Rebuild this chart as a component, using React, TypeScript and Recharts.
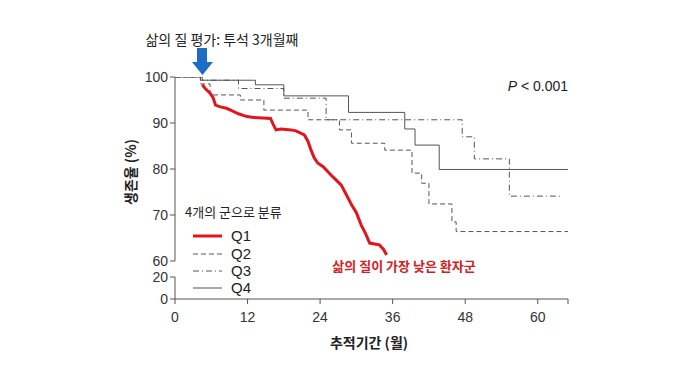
import { LineChart, Line, XAxis, YAxis } from 'recharts';

const FONT = '"Liberation Sans", Arial, "Noto Sans CJK KR", sans-serif';
const KFONT = '"Noto Sans CJK KR", "Liberation Sans", sans-serif';

const xTicks = [0, 12, 24, 36, 48, 60, 65];
const upperTicks = [60, 70, 80, 90, 100];
const lowerTicks = [0, 20];

// Q1: lowest QoL group
const q1Months = [4.5, 5, 5.8, 6.3, 6.7, 7.5, 8.5, 9.2, 10.5, 11.9, 13, 14.5, 15.8, 16.2, 16.7, 17.5, 19.2, 20, 21.4, 22, 22.5, 23, 23.6, 24.5, 25.8, 26.5, 27.5, 28.3, 29.2, 30, 30.8, 31.5, 32.2, 33, 33.8, 34.5, 35];
const q1Survival = [98.3, 97.5, 96.5, 95.5, 93.9, 93.5, 93.2, 92.8, 92, 91.4, 91.2, 91.1, 91.0, 89.8, 88.5, 88.7, 88.5, 88.3, 87.4, 86, 84.1, 82.5, 81.3, 80.5, 78.7, 77.8, 76.5, 74.5, 72.2, 70.5, 67.8, 66, 63.9, 63.7, 63.5, 62.5, 61.3];

const q2Months = [0, 4.2, 5.8, 10.8, 14.7, 22, 27.2, 29.2, 34.7, 39.2, 40.8, 42, 45.8, 46.5, 65];
const q2Survival = [100, 98.5, 96.1, 95, 92.8, 90.7, 88.5, 85.6, 84.1, 79.1, 76.9, 72.4, 68.5, 66.4, 66.4];

const q3Months = [0, 4.5, 10.5, 18, 25, 47.5, 49.5, 55.3, 64];
const q3Survival = [100, 99.3, 97.5, 95.4, 90.7, 87, 82.2, 74.1, 74.1];

const q4Months = [0, 4.2, 13.3, 18, 28.7, 38, 39.7, 43.7, 65];
const q4Survival = [100, 99.3, 98.3, 95.9, 92.3, 88.7, 85.2, 79.9, 79.9];

const toRows = (m: number[], s: number[]) => m.map((month, i) => ({ month, survival: s[i] }));
// lower (broken) panel holds no curves, only the 0–20 scale
const lowerRows = xTicks.map((month) => ({ month, survival: 0 }));

const GREY = '#555';
const RED = '#e3151c';
const tickStyle = { fill: '#333', fontSize: 14, fontFamily: FONT };

export default function App() {
  return (
    <div style={{ position: 'absolute', left: 0, top: 0, width: 680, height: 383, background: '#fff' }}>
      <div style={{ position: 'absolute', left: 0, top: 0 }}>
        <LineChart width={680} height={383} data={lowerRows} margin={{ top: 277, right: 112, left: 0, bottom: 0 }}>
          <XAxis
            type="number"
            dataKey="month"
            domain={[0, 65]}
            ticks={xTicks}
            tickFormatter={(v: number) => (v === 65 ? '' : String(v))}
            height={84}
            tick={tickStyle}
            tickSize={5}
            tickMargin={8}
            stroke={GREY}
            interval={0}
          />
          <YAxis
            type="number"
            domain={[0, 20]}
            ticks={lowerTicks}
            width={175}
            tick={tickStyle}
            tickSize={5}
            stroke={GREY}
            interval={0}
            allowDataOverflow
          />
          <Line dataKey="survival" stroke="none" dot={false} isAnimationActive={false} />
        </LineChart>
      </div>
      <div style={{ position: 'absolute', left: 0, top: 0 }}>
        <LineChart width={680} height={300} margin={{ top: 77, right: 112, left: 0, bottom: 39 }}>
          <XAxis type="number" dataKey="month" domain={[0, 65]} hide />
          <YAxis
            type="number"
            domain={[60, 100]}
            ticks={upperTicks}
            width={175}
            tick={tickStyle}
            tickSize={5}
            stroke={GREY}
            interval={0}
            allowDataOverflow
          />
          <Line data={toRows(q4Months, q4Survival)} dataKey="survival" type="stepAfter" stroke={GREY} strokeWidth={1} dot={false} isAnimationActive={false} />
          <Line data={toRows(q3Months, q3Survival)} dataKey="survival" type="stepAfter" stroke={GREY} strokeWidth={1} strokeDasharray="6 3 1 3" dot={false} isAnimationActive={false} />
          <Line data={toRows(q2Months, q2Survival)} dataKey="survival" type="stepAfter" stroke={GREY} strokeWidth={1} strokeDasharray="5 3" dot={false} isAnimationActive={false} />
          <Line data={toRows(q1Months, q1Survival)} dataKey="survival" type="linear" stroke={RED} strokeWidth={3} dot={false} isAnimationActive={false} />
        </LineChart>
      </div>
      <svg width={680} height={383} style={{ position: 'absolute', left: 0, top: 0, pointerEvents: 'none' }}>
        <text x={222} y={45} textAnchor="middle" fontFamily={KFONT} fontSize={14} fill="#222">삶의 질 평가: 투석 3개월째</text>
        <rect x={197} y={48} width={10} height={14} fill="#1c6ec4" />
        <polygon points="192,62 213,62 202.5,75" fill="#1c6ec4" />
        <text x={568} y={91} textAnchor="end" fontFamily={FONT} fontSize={14} fill="#222">
          <tspan fontStyle="italic">P</tspan> &lt; 0.001
        </text>
        <text x={130} y={172} transform="rotate(-90 130 172)" textAnchor="middle" dominantBaseline="central" fontFamily={KFONT} fontWeight="bold" fontSize={14} fill="#222">생존율 (%)</text>
        <text x={369} y={348} textAnchor="middle" fontFamily={KFONT} fontWeight="bold" fontSize={14} fill="#222">추적기간 (월)</text>
        <text x={185} y={217} fontFamily={KFONT} fontSize={13} fill="#222">4개의 군으로 분류</text>
        <line x1={193} x2={222} y1={236} y2={236} stroke={RED} strokeWidth={3} />
        <text x={231} y={241} fontFamily={FONT} fontSize={15} fill="#222">Q1</text>
        <line x1={193} x2={222} y1={254} y2={254} stroke={GREY} strokeDasharray="5 3" />
        <text x={231} y={259} fontFamily={FONT} fontSize={15} fill="#222">Q2</text>
        <line x1={193} x2={222} y1={271} y2={271} stroke={GREY} strokeDasharray="6 3 1 3" />
        <text x={231} y={276} fontFamily={FONT} fontSize={15} fill="#222">Q3</text>
        <line x1={193} x2={222} y1={288} y2={288} stroke={GREY} />
        <text x={231} y={293} fontFamily={FONT} fontSize={15} fill="#222">Q4</text>
        <text x={404} y={271} textAnchor="middle" fontFamily={KFONT} fontWeight="bold" fontSize={13} fill="#d42020">삶의 질이 가장 낮은 환자군</text>
      </svg>
    </div>
  );
}
